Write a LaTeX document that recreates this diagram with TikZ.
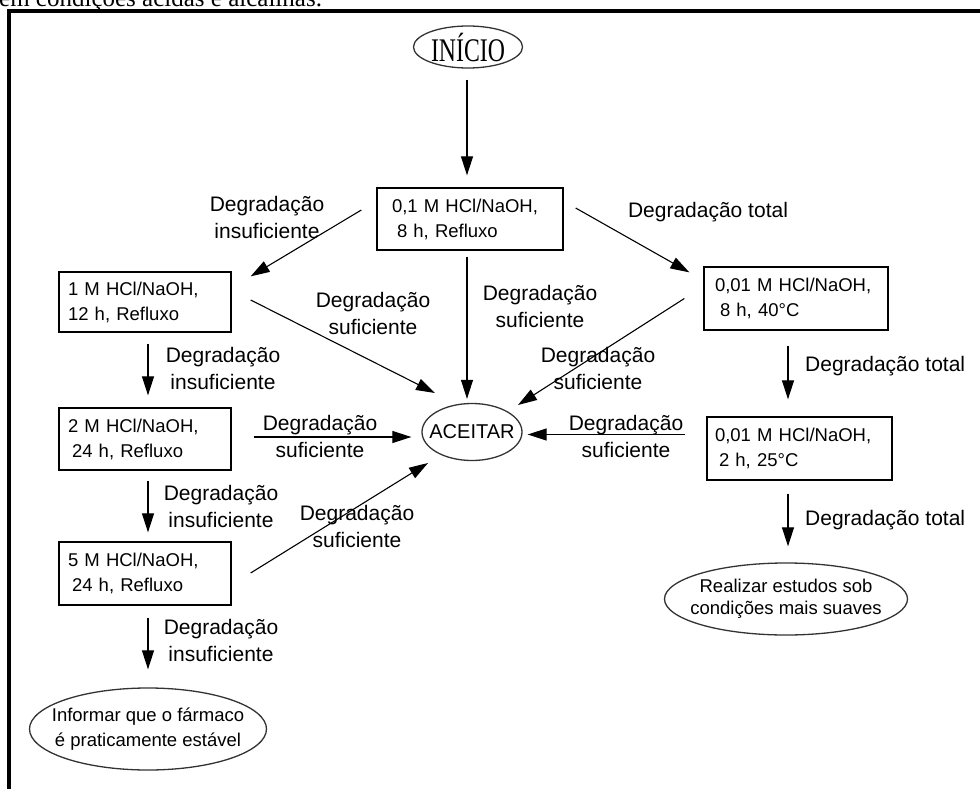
\documentclass[tikz,border=0pt]{standalone}
\usepackage{fontspec}
\usepackage{graphicx}
\setmainfont{Liberation Sans}
\newfontfamily\tnr{Liberation Serif}
\usetikzlibrary{shapes.geometric,arrows.meta,calc}
\begin{document}
\begin{tikzpicture}[x=1pt,y=-1pt,
  box/.style={draw, line width=1.3pt, inner ysep=0pt, align=left, font=\fontsize{18.5}{25}\selectfont},
  lab/.style={align=center, font=\fontsize{21}{27}\selectfont, inner sep=0pt},
  labl/.style={align=left, anchor=west, font=\fontsize{21}{27}\selectfont, inner sep=0pt},
  arr/.style={line width=1.1pt, -{Triangle[length=19pt,width=12pt]}},
  ell/.style={draw=black!80, ellipse, line width=1.3pt, inner sep=0pt},
  eltext/.style={align=center, font=\fontsize{18.5}{24}\selectfont, inner sep=0pt}]
\useasboundingbox (0,0) rectangle (980,789);
\clip (0,0) rectangle (980,789);

% caption fragment and frame
\node[anchor=base west, inner sep=0pt, font=\tnr\fontsize{25}{25}\selectfont] (cap) at (-1,7) {em condições ácidas e alcalinas.};
\draw[line width=4pt, line join=miter] (8.5,800) -- (8.5,11.3) -- (990,11.3);

% nodes
\node[ell, minimum width=109pt, minimum height=42pt,
  label={[inner sep=0pt, font=\tnr\fontsize{33}{33}\selectfont]center:\scalebox{0.72}[1]{INÍCIO}}] (inicio) at (468,47) {};

\node[box, inner xsep=15pt, text width=156pt, minimum height=62pt] (b1) at (470,219)
  {0,1 M HCl/NaOH,\\\hspace*{5pt}8 h, Refluxo};
\node[box, inner xsep=9pt, text width=154pt, minimum height=60pt] (b2) at (145,302)
  {1 M HCl/NaOH,\\12 h, Refluxo};
\node[box, inner xsep=11pt, text width=162pt, minimum height=63pt] (b3) at (796,298.5)
  {0,01 M HCl/NaOH,\\\hspace*{5pt}8 h, 40°C};
\node[box, inner xsep=9pt, text width=154pt, minimum height=62pt] (b4) at (145,439)
  {2 M HCl/NaOH,\\\hspace*{4pt}24 h, Refluxo};
\node[box, inner xsep=9pt, text width=154pt, minimum height=63pt] (b5) at (145,573.5)
  {5 M HCl/NaOH,\\\hspace*{4pt}24 h, Refluxo};
\node[box, inner xsep=8pt, text width=169pt, minimum height=63pt] (b6) at (799.5,448.5)
  {0,01 M HCl/NaOH,\\\hspace*{4pt}2 h, 25°C};

\node[ell, minimum width=100pt, minimum height=57pt,
  label={[eltext, font=\fontsize{20}{24}\selectfont]center:ACEITAR}] (acc) at (472,432) {};
\node[ell, minimum width=243pt, minimum height=72pt,
  label={[eltext, font=\fontsize{18.5}{22}\selectfont]center:Realizar estudos sob\\condições mais suaves}] (real) at (786,599) {};
\node[ell, minimum width=237pt, minimum height=82pt,
  label={[eltext, font=\fontsize{18.5}{25}\selectfont]center:Informar que o fármaco\\é praticamente estável}] (inf) at (148,729) {};

% connectors
\draw[arr] ($(inicio.south)+(-1,11)$) -- ($(inicio.south |- b1.north)+(-1,-12)$);
\draw[arr] ($(b1.west)+(-15,-9)$) -- ($(b2.north east)+(19,5)$);
\draw[arr] ($(b1.east)+(12,-11)$) -- ($(b3.north west)+(-14,6)$);
\draw[arr] ($(b1.south)+(-3,6)$) -- ($(b1.south |- acc.north)+(-3,-4)$);
\draw[arr] ($(b2.east)+(19,-2)$) -- ($(acc.center)+(-37,-39)$);
\draw[arr] ($(b3.west)+(-19,0)$) -- ($(acc.center)+(46,-27)$);
\draw[arr] ($(b4.east)+(22,-2)$) -- ($(acc.west |- b4.east)+(-10,-2)$);
\draw[arr] ($(b6.west)+(-21,-14)$) -- ($(acc.east |- b6.west)+(5,-14)$);
\draw[arr] ($(b5.east)+(19,-0.5)$) -- ($(acc.center)+(-44,31)$);
\draw[arr] ($(b2.south)+(3,11)$) -- ($(b4.north)+(3,-12)$);
\draw[arr] ($(b4.south)+(3,10)$) -- ($(b5.north)+(3,-9)$);
\draw[arr] ($(b5.south)+(3,12)$) -- ($(b5.south |- inf.north)+(3,-18)$);
\draw[arr] ($(b3.south)+(-8,15)$) -- ($(b3.south |- b6.north)+(-8,-17)$);
\draw[arr] ($(b6.south)+(-11.5,13)$) -- ($(b6.south |- real.north)+(-11.5,-16)$);

% labels
\node[lab] (l1) at (267,217) {Degradação\\insuficiente};
\node[lab] (l2) at (708,212) {Degradação total};
\node[lab] (l3) at (540,306) {Degradação\\suficiente};
\node[lab] (l4) at (373,313) {Degradação\\suficiente};
\node[lab] (l5) at (598,368) {Degradação\\suficiente};
\node[lab] (l6) at (320,436) {Degradação\\suficiente};
\node[lab] (l7) at (626,436) {Degradação\\suficiente};
\node[lab] (l8) at (357,526) {Degradação\\suficiente};
\node[lab] (l9) at (223,368) {Degradação\\insuficiente};
\node[lab] (l10) at (221,506) {Degradação\\insuficiente};
\node[lab] (l11) at (221,640) {Degradação\\insuficiente};
\node[labl] (l12) at (805,366) {Degradação total};
\node[labl] (l13) at (805,520) {Degradação total};
\end{tikzpicture}
\end{document}
